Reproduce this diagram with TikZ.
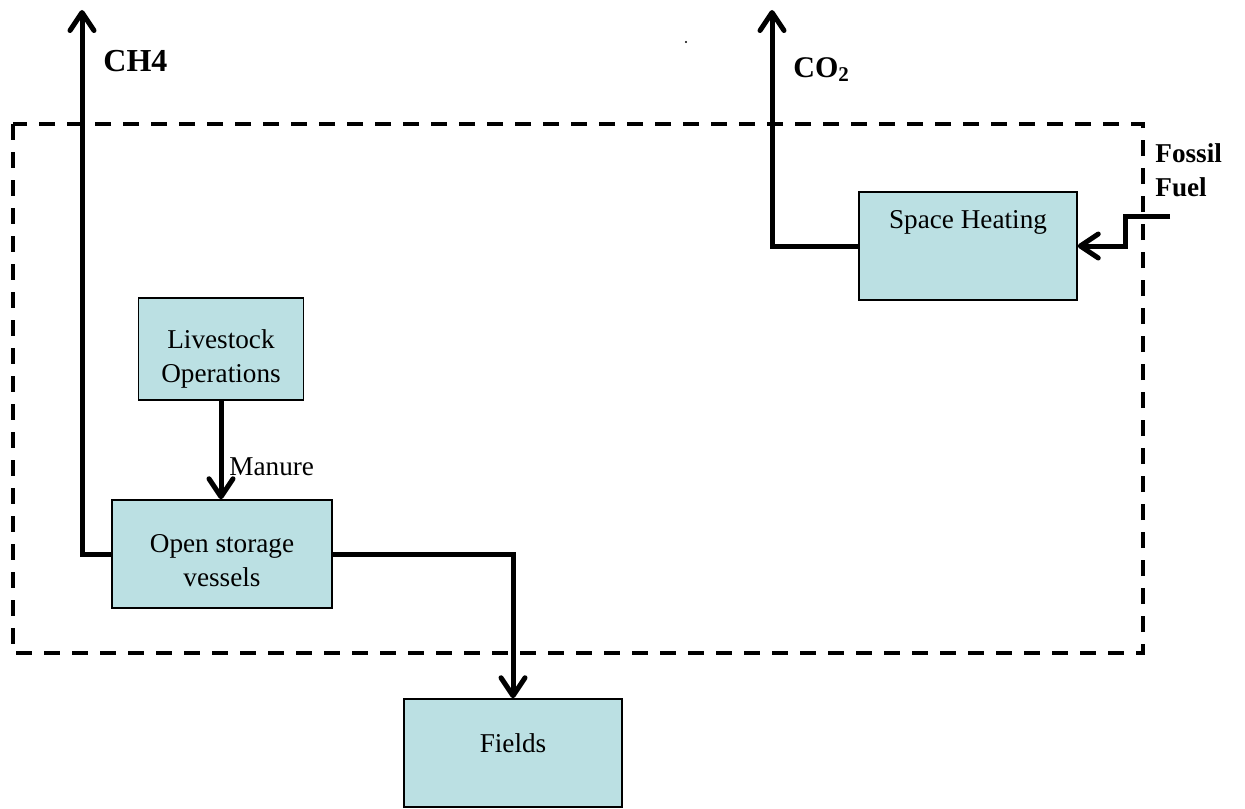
\documentclass[tikz,border=0pt]{standalone}
\usepackage{fontspec}
\setmainfont{Liberation Serif}
\usetikzlibrary{arrows.meta}
\definecolor{boxfill}{RGB}{187,224,227}
\begin{document}
\begin{tikzpicture}[x=0.5pt,y=-0.5pt,
  box/.style={draw=black,line width=0.75pt,fill=boxfill,rectangle,inner sep=0pt},
  boxtext/.style={align=center,font=\fontsize{13.6}{17}\selectfont,inner sep=0pt},
  flow/.style={line width=2.5pt,-{Straight Barb[length=9pt,width=12pt,round]}},
  bound/.style={line width=2pt,dash pattern=on 8pt off 6pt},
  gaslabel/.style={font=\fontsize{16}{19}\selectfont\bfseries,inner sep=0pt,anchor=base west}]
\useasboundingbox (0,0) rectangle (1245,808);
% system boundary
\draw[bound] (13,124) rectangle (1143,653);
% boxes
\node[box,minimum width=109pt,minimum height=54pt] (sh) at (968,246) {};
\node[box,minimum width=82.5pt,minimum height=51pt] (lo) at (221,349) {};
\node[box,minimum width=110pt,minimum height=54pt] (os) at (222,554) {};
\node[box,minimum width=109pt,minimum height=54pt] (fi) at (513,753) {};
% box texts
\node[boxtext] (sht) at (968,222) {Space Heating};
\node[boxtext] (lot) at (221,359) {Livestock\\Operations};
\node[boxtext] (ost) at (222,561) {Open storage\\vessels};
\node[boxtext] (fit) at (513,743) {Fields};
% free ends
\coordinate (ch4top) at (82,10);
\coordinate (co2top) at (772,10);
\coordinate (ff) at (1170,216);
\coordinate (ffbend) at (1125,246);
% connectors
\draw[flow] (os.west) -| (ch4top);
\draw[flow] (sh.west) -| (co2top);
\draw[flow] (ff) -| (ffbend) -- (sh.east);
\draw[flow] (lo.south) -- (lo.south |- os.north);
\draw[flow] (os.east) -| (fi.north);
% labels
\node[gaslabel] (ch4) at (103,72) {CH4};
\node[gaslabel,font=\fontsize{15}{18}\selectfont\bfseries] (co2) at (793,77) {CO\textsubscript{2}};
\node[align=left,anchor=north west,inner sep=0pt,font=\fontsize{13.6}{17}\selectfont\bfseries] (fossil) at (1155,143) {Fossil\\Fuel};
\node[anchor=base west,inner sep=0pt,font=\fontsize{13.6}{17}\selectfont] (manure) at (229,475) {Manure};
% stray dot
\fill (686,42) circle (0.6pt);
\end{tikzpicture}
\end{document}
